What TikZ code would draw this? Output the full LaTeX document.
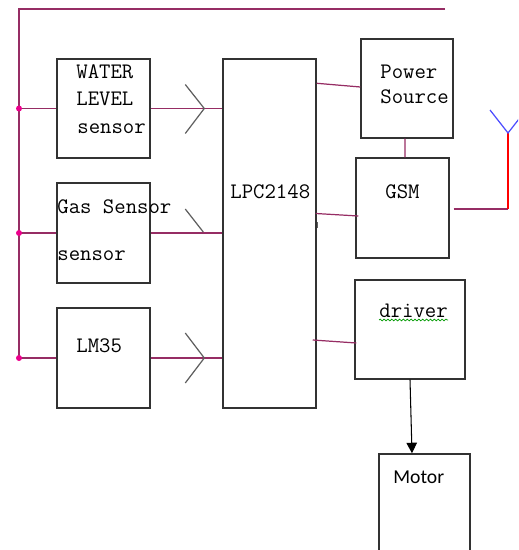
\documentclass[tikz,border=0pt]{standalone}
\usepackage{fontspec}
\newfontfamily\motorfont{Carlito}
\usetikzlibrary{arrows.meta,calc,decorations.pathmorphing}

\definecolor{wirecol}{RGB}{150,45,100}
\definecolor{boxcol}{RGB}{50,50,50}
\definecolor{chevcol}{RGB}{95,95,95}

\begin{document}
\begin{tikzpicture}[x=0.02cm,y=-0.02cm,>=Stealth,
  box/.style={draw=boxcol,line width=0.85pt,rectangle,inner sep=0pt},
  lbl/.style={inner sep=0pt,anchor=base west,font=\ttfamily\fontsize{12.6}{14}\selectfont},
  wire/.style={draw=wirecol,line width=0.7pt},
  chev/.style={draw=chevcol,line width=0.7pt},
  tapdot/.style={fill=magenta}]

\useasboundingbox (0,0) rectangle (518,550);
\clip (0,0) rectangle (518,550);

% ---------------- BLOCKS ----------------
\node[box,minimum width=1.86cm,minimum height=1.98cm] (water) at (103.5,108.5) {};
\node[box,minimum width=1.86cm,minimum height=2.0cm] (gas) at (103.5,233) {};
\node[box,minimum width=1.86cm,minimum height=2.0cm] (lm) at (103.5,358) {};
\node[box,minimum width=1.86cm,minimum height=6.98cm] (lpc) at (269.5,233.5) {};
\node[box,minimum width=1.84cm,minimum height=1.98cm] (power) at (407,88.5) {};
\node[box,minimum width=1.86cm,minimum height=2.0cm] (gsm) at (402.5,208) {};
\node[box,minimum width=2.2cm,minimum height=1.98cm] (driver) at (410,329.5) {};
\node[box,minimum width=1.82cm,minimum height=2.1cm] (motor) at (424.5,506.5) {};

% labels
\node[lbl] (watera) at (76,79) {WATER};
\node[lbl] (waterb) at (76,106) {LEVEL};
\node[lbl] (waterc) at (77,134) {sensor};
\node[lbl] (gasa) at (57,214) {Gas Sensor};
\node[lbl] (gasb) at (57,260) {sensor};
\node[lbl] (lmtxt) at (76,352) {LM35};
\node[lbl] (lpctxt) at (230,199) {LPC2148};
\node[lbl] (powera) at (380,79) {Power};
\node[lbl] (powerb) at (380,104) {Source};
\node[lbl] (gsmtxt) at (385,199) {GSM};
\node[lbl] (drivertxt) at (379,317) {driver};
\node[lbl,font=\motorfont\fontsize{11.2}{13}\selectfont] (motortxt) at (393,483) {Motor};

% wavy underline under driver
\draw[green!60!black,line width=0.4pt,decorate,decoration={snake,amplitude=0.5pt,segment length=2.2pt}]
  ($(drivertxt.base west)+(0,3)$) -- ($(drivertxt.base east)+(0,3)$);

% ---------------- SUPPLY BUS ----------------
\coordinate (busend) at (445,9);
\coordinate (bustop) at (19,9);
\coordinate (busbot) at (19,358);
\draw[wire] (busend) -- (bustop) -- (busbot);

% taps into the sensors
\foreach \blk in {water,gas,lm}{
  \draw[wire] (\blk.west -| bustop) -- (\blk.west);
  \draw[wire] (\blk.east) -- (\blk.east -| lpc.west);
  \fill[tapdot] (\blk.west -| bustop) circle (3);
}

% chevrons on the sensor lines
\draw[chev] ($(water.east -| lpc.west)+(-37,-24)$) -- ++(19,24) -- ++(-19,25);
\draw[chev] ($(gas.east -| lpc.west)+(-37,-24)$) -- ++(18,23);
\draw[chev] ($(lm.east -| lpc.west)+(-37,-25)$) -- ++(19,25) -- ++(-19,25);

% ---------------- RIGHT SIDE ----------------
\draw[wire] ($(power.north)+(-5,0)$) -- ($(power.north)+(-5,0)$ |- busend);
\draw[wire] ($(lpc.north east)+(0,25)$) -- ($(power.west)+(0,-1.5)$);
\draw[wire] ($(power.south)+(-2,0)$) -- ($(gsm.north)+(2.5,0)$);
\draw[wire] ($(lpc.east)+(-1,-20)$) -- ($(gsm.west)+(3,8)$);
\draw[chevcol,line width=0.5pt] ($(lpc.east)+(1,-11)$) -- ++(0,6);
\draw[wire] ($(lpc.east)+(-4,106.5)$) -- ($(driver.west)+(2,13.5)$);

% antenna
\coordinate (antbase) at (508,209);
\coordinate (anttop) at (508,133);
\draw[wire] ($(gsm.east)+(4,1)$) -- (antbase);
\draw[red,line width=0.7pt] (antbase) -- (anttop);
\draw[blue!70,line width=0.7pt] (490,110) -- (anttop) -- (526,110);

% driver to motor
\draw[-{Triangle[length=6pt,width=6pt]},line width=0.6pt] (driver.south) -- ($(motor.north)+(-12.5,0)$);

\end{tikzpicture}
\end{document}
